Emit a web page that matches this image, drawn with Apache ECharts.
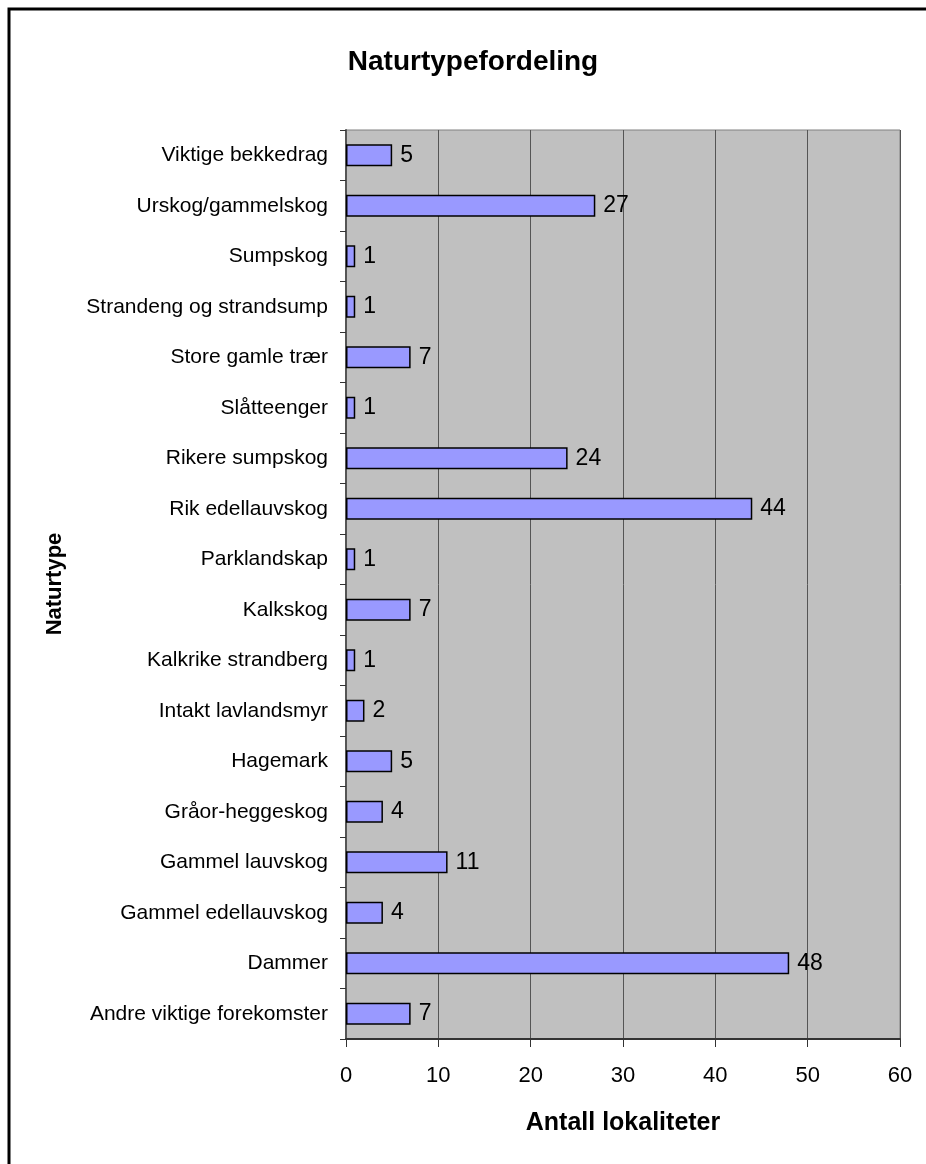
<!DOCTYPE html>
<html>
<head>
<meta charset="utf-8">
<style>
html,body{margin:0;padding:0;background:#fff;}
#chart{width:926px;height:1164px;}
</style>
<script src="https://cdn.jsdelivr.net/npm/echarts@6/dist/echarts.min.js"></script>
</head>
<body>
<div id="chart"></div>
<script>
const categories = [
  "Andre viktige forekomster",
  "Dammer",
  "Gammel edellauvskog",
  "Gammel lauvskog",
  "Gråor-heggeskog",
  "Hagemark",
  "Intakt lavlandsmyr",
  "Kalkrike strandberg",
  "Kalkskog",
  "Parklandskap",
  "Rik edellauvskog",
  "Rikere sumpskog",
  "Slåtteenger",
  "Store gamle trær",
  "Strandeng og strandsump",
  "Sumpskog",
  "Urskog/gammelskog",
  "Viktige bekkedrag"
];
const values = [7, 48, 4, 11, 4, 5, 2, 1, 7, 1, 44, 24, 1, 7, 1, 1, 27, 5];
const xTicks = [0, 10, 20, 30, 40, 50, 60];
const titleText = "Naturtypefordeling";
const xTitle = "Antall lokaliteter";
const yTitle = "Naturtype";

const FONT = "'Liberation Sans', Arial, sans-serif";
const chart = echarts.init(document.getElementById('chart'), null, {renderer: 'canvas'});
chart.setOption({
  animation: false,
  backgroundColor: '#ffffff',
  grid: {
    left: 346, right: 26, top: 130, bottom: 125,
    show: true, backgroundColor: '#c0c0c0', borderColor: '#808080', borderWidth: 1
  },
  xAxis: {
    type: 'value',
    min: xTicks[0], max: xTicks[xTicks.length - 1], interval: 10,
    axisLine: {show: true, lineStyle: {color: '#333333', width: 2}},
    axisTick: {show: true, length: 8, lineStyle: {color: '#333333', width: 1}},
    axisLabel: {fontFamily: FONT, fontSize: 22, color: '#000', margin: 26},
    splitLine: {show: true, lineStyle: {color: '#555555', width: 1}},
    name: xTitle, nameLocation: 'middle', nameGap: 72,
    nameTextStyle: {fontFamily: FONT, fontSize: 25, fontWeight: 'bold', color: '#000'}
  },
  yAxis: {
    type: 'category',
    data: categories,
    axisLine: {show: true, lineStyle: {color: '#555555', width: 2}},
    axisTick: {show: true, length: 6, lineStyle: {color: '#333333', width: 1}},
    axisLabel: {fontFamily: FONT, fontSize: 21, color: '#000', margin: 18},
    splitLine: {show: false}
  },
  series: [{
    type: 'bar',
    data: values,
    barWidth: 22,
    itemStyle: {color: '#9999ff', borderColor: '#000000', borderWidth: 1.5},
    label: {
      show: true, position: 'right', distance: 8,
      fontFamily: FONT, fontSize: 23, color: '#000'
    }
  }],
  graphic: [
    {
      type: 'polyline', silent: true,
      shape: {points: [[9, 1164], [9, 9], [926, 9]]},
      style: {stroke: '#000', lineWidth: 3, fill: null}
    },
    {
      type: 'text', x: 473, y: 62,
      style: {text: titleText, font: "bold 28px " + FONT, fill: '#000',
              textAlign: 'center', textVerticalAlign: 'middle'}
    },
    {
      type: 'text', x: 55, y: 584, rotation: Math.PI / 2,
      style: {text: yTitle, font: "bold 22px " + FONT, fill: '#000',
              textAlign: 'center', textVerticalAlign: 'middle'}
    }
  ]
});
</script>
</body>
</html>
